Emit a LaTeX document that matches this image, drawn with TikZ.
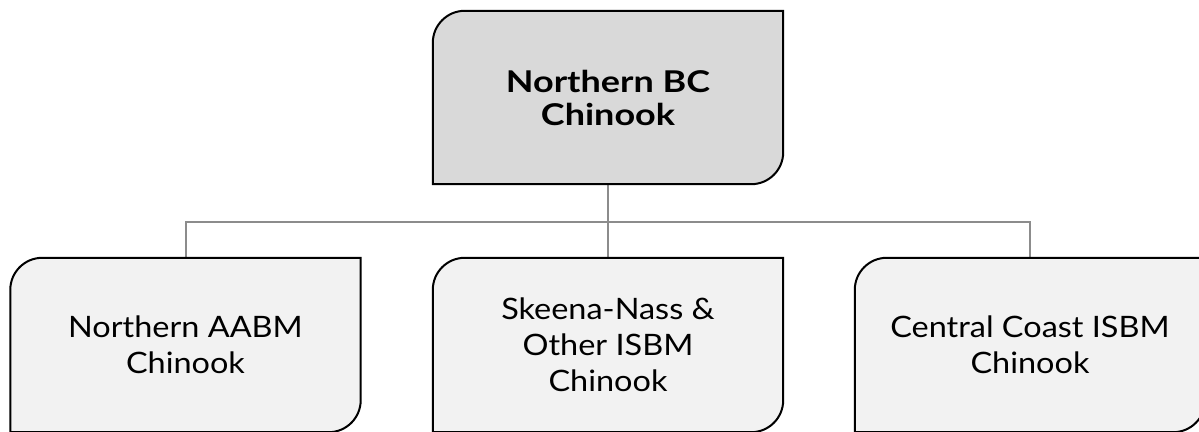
\documentclass[tikz,border=0pt]{standalone}
\usepackage{fontspec}
\setmainfont{Lato}
\usetikzlibrary{backgrounds}
\definecolor{topfill}{HTML}{D9D9D9}
\definecolor{subfill}{HTML}{F2F2F2}
\definecolor{linkgray}{HTML}{8C8C8C}
\tikzset{
  box/.style={minimum width=350pt, align=center, inner sep=0pt},
  topbox/.style={box, minimum height=173pt, font=\fontsize{30}{33}\selectfont\bfseries\addfontfeature{FakeStretch=1.2}},
  subbox/.style={box, minimum height=174pt, font=\fontsize{29.5}{36}\selectfont\addfontfeature{FakeStretch=1.1}},
  outline/.style={draw=black, line width=2pt},
  link/.style={draw=linkgray, line width=2pt},
}
\newcommand{\leafshape}[2]{%
  \path[outline, fill=#2] (#1.south west) -- ([yshift=-32pt]#1.north west)
    arc[start angle=180, end angle=90, radius=32pt] -- (#1.north east)
    -- ([yshift=32pt]#1.south east)
    arc[start angle=0, end angle=-90, radius=32pt] -- cycle;}
\begin{document}
\begin{tikzpicture}[x=1pt, y=1pt]
\useasboundingbox (0,0) rectangle (1199,431);
\clip (0,0) rectangle (1199,431);
\node[topbox] (top) at (608,333.5) {Northern BC\\Chinook};
\node[subbox] (left) at (185.5,86) {Northern AABM\\Chinook};
\node[subbox] (mid) at (608,86) {Skeena-Nass \&\\Other ISBM\\Chinook};
\node[subbox] (right) at (1030,86) {Central Coast ISBM\\Chinook};
\coordinate (bus) at (608,209);
\begin{scope}[on background layer]
\draw[link] (top.south) -- (bus);
\draw[link] (bus) -| (left.north);
\draw[link] (bus) -| (right.north);
\draw[link] (bus) -- (mid.north);
\leafshape{top}{topfill}
\leafshape{left}{subfill}
\leafshape{mid}{subfill}
\leafshape{right}{subfill}
\end{scope}
\end{tikzpicture}
\end{document}
